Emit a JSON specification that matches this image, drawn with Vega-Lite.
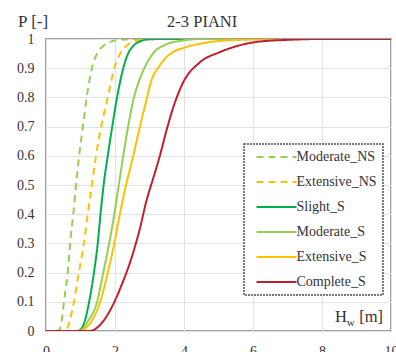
{
  "$schema": "https://vega.github.io/schema/vega-lite/v6.json",
  "width": 345,
  "height": 292,
  "autosize": {"type": "none"},
  "padding": {"left": 46, "top": 39, "right": 5, "bottom": 21},
  "background": "white",
  "config": {
    "font": "Liberation Serif, Times New Roman, DejaVu Serif, serif",
    "view": {"stroke": "#808080", "strokeWidth": 1.5},
    "axis": {"labelFont": "Liberation Serif, Times New Roman, DejaVu Serif, serif", "labelFontSize": 14, "labelColor": "#333333", "ticks": false, "domain": false, "grid": true, "gridColor": "#E2E2E2", "gridWidth": 1, "labelOverlap": false},
    "text": {"font": "Liberation Serif, Times New Roman, DejaVu Serif, serif", "color": "#333333", "baseline": "alphabetic"}
  },
  "layer": [
    {
      "data": {"values": [
        {"s": "Moderate_NS", "x": 0.3, "p": 0}, {"s": "Moderate_NS", "x": 0.38, "p": 0.003}, {"s": "Moderate_NS", "x": 0.45, "p": 0.03}, {"s": "Moderate_NS", "x": 0.52, "p": 0.1}, {"s": "Moderate_NS", "x": 0.63, "p": 0.2}, {"s": "Moderate_NS", "x": 0.7, "p": 0.3}, {"s": "Moderate_NS", "x": 0.79, "p": 0.4}, {"s": "Moderate_NS", "x": 0.87, "p": 0.5}, {"s": "Moderate_NS", "x": 0.96, "p": 0.6}, {"s": "Moderate_NS", "x": 1.07, "p": 0.7}, {"s": "Moderate_NS", "x": 1.18, "p": 0.8}, {"s": "Moderate_NS", "x": 1.33, "p": 0.9}, {"s": "Moderate_NS", "x": 1.48, "p": 0.95}, {"s": "Moderate_NS", "x": 1.65, "p": 0.975}, {"s": "Moderate_NS", "x": 1.9, "p": 0.992}, {"s": "Moderate_NS", "x": 2.2, "p": 0.998}, {"s": "Moderate_NS", "x": 2.6, "p": 1}, {"s": "Moderate_NS", "x": 10, "p": 1},
        {"s": "Extensive_NS", "x": 0.3, "p": 0}, {"s": "Extensive_NS", "x": 0.55, "p": 0}, {"s": "Extensive_NS", "x": 0.62, "p": 0.01}, {"s": "Extensive_NS", "x": 0.7, "p": 0.04}, {"s": "Extensive_NS", "x": 0.81, "p": 0.1}, {"s": "Extensive_NS", "x": 0.95, "p": 0.2}, {"s": "Extensive_NS", "x": 1.1, "p": 0.3}, {"s": "Extensive_NS", "x": 1.21, "p": 0.4}, {"s": "Extensive_NS", "x": 1.33, "p": 0.5}, {"s": "Extensive_NS", "x": 1.45, "p": 0.6}, {"s": "Extensive_NS", "x": 1.6, "p": 0.7}, {"s": "Extensive_NS", "x": 1.79, "p": 0.8}, {"s": "Extensive_NS", "x": 1.98, "p": 0.9}, {"s": "Extensive_NS", "x": 2.15, "p": 0.95}, {"s": "Extensive_NS", "x": 2.32, "p": 0.975}, {"s": "Extensive_NS", "x": 2.6, "p": 0.993}, {"s": "Extensive_NS", "x": 3.0, "p": 0.999}, {"s": "Extensive_NS", "x": 3.5, "p": 1}, {"s": "Extensive_NS", "x": 10, "p": 1},
        {"s": "Slight_S", "x": 0, "p": 0}, {"s": "Slight_S", "x": 0.9, "p": 0}, {"s": "Slight_S", "x": 1.0, "p": 0.005}, {"s": "Slight_S", "x": 1.1, "p": 0.025}, {"s": "Slight_S", "x": 1.25, "p": 0.1}, {"s": "Slight_S", "x": 1.39, "p": 0.2}, {"s": "Slight_S", "x": 1.5, "p": 0.3}, {"s": "Slight_S", "x": 1.58, "p": 0.4}, {"s": "Slight_S", "x": 1.67, "p": 0.5}, {"s": "Slight_S", "x": 1.79, "p": 0.6}, {"s": "Slight_S", "x": 1.92, "p": 0.7}, {"s": "Slight_S", "x": 2.06, "p": 0.8}, {"s": "Slight_S", "x": 2.24, "p": 0.9}, {"s": "Slight_S", "x": 2.38, "p": 0.95}, {"s": "Slight_S", "x": 2.52, "p": 0.975}, {"s": "Slight_S", "x": 2.75, "p": 0.993}, {"s": "Slight_S", "x": 3.0, "p": 0.999}, {"s": "Slight_S", "x": 3.5, "p": 1}, {"s": "Slight_S", "x": 10, "p": 1},
        {"s": "Moderate_S", "x": 0, "p": 0}, {"s": "Moderate_S", "x": 0.95, "p": 0}, {"s": "Moderate_S", "x": 1.05, "p": 0.005}, {"s": "Moderate_S", "x": 1.2, "p": 0.03}, {"s": "Moderate_S", "x": 1.48, "p": 0.1}, {"s": "Moderate_S", "x": 1.66, "p": 0.2}, {"s": "Moderate_S", "x": 1.83, "p": 0.3}, {"s": "Moderate_S", "x": 1.98, "p": 0.4}, {"s": "Moderate_S", "x": 2.11, "p": 0.5}, {"s": "Moderate_S", "x": 2.24, "p": 0.6}, {"s": "Moderate_S", "x": 2.38, "p": 0.7}, {"s": "Moderate_S", "x": 2.55, "p": 0.8}, {"s": "Moderate_S", "x": 2.65, "p": 0.84}, {"s": "Moderate_S", "x": 2.85, "p": 0.9}, {"s": "Moderate_S", "x": 3.1, "p": 0.95}, {"s": "Moderate_S", "x": 3.45, "p": 0.98}, {"s": "Moderate_S", "x": 3.97, "p": 0.995}, {"s": "Moderate_S", "x": 4.5, "p": 1}, {"s": "Moderate_S", "x": 10, "p": 1},
        {"s": "Extensive_S", "x": 0, "p": 0}, {"s": "Extensive_S", "x": 1.0, "p": 0}, {"s": "Extensive_S", "x": 1.15, "p": 0.01}, {"s": "Extensive_S", "x": 1.3, "p": 0.03}, {"s": "Extensive_S", "x": 1.57, "p": 0.1}, {"s": "Extensive_S", "x": 1.79, "p": 0.2}, {"s": "Extensive_S", "x": 1.98, "p": 0.3}, {"s": "Extensive_S", "x": 2.14, "p": 0.4}, {"s": "Extensive_S", "x": 2.32, "p": 0.5}, {"s": "Extensive_S", "x": 2.53, "p": 0.6}, {"s": "Extensive_S", "x": 2.72, "p": 0.7}, {"s": "Extensive_S", "x": 2.93, "p": 0.8}, {"s": "Extensive_S", "x": 3.01, "p": 0.84}, {"s": "Extensive_S", "x": 3.3, "p": 0.91}, {"s": "Extensive_S", "x": 3.68, "p": 0.955}, {"s": "Extensive_S", "x": 4.0, "p": 0.97}, {"s": "Extensive_S", "x": 4.67, "p": 0.988}, {"s": "Extensive_S", "x": 5.4, "p": 0.996}, {"s": "Extensive_S", "x": 7, "p": 1}, {"s": "Extensive_S", "x": 10, "p": 1},
        {"s": "Complete_S", "x": 0, "p": 0}, {"s": "Complete_S", "x": 1.25, "p": 0}, {"s": "Complete_S", "x": 1.4, "p": 0.005}, {"s": "Complete_S", "x": 1.6, "p": 0.025}, {"s": "Complete_S", "x": 1.9, "p": 0.08}, {"s": "Complete_S", "x": 2.2, "p": 0.16}, {"s": "Complete_S", "x": 2.45, "p": 0.24}, {"s": "Complete_S", "x": 2.72, "p": 0.35}, {"s": "Complete_S", "x": 2.92, "p": 0.45}, {"s": "Complete_S", "x": 3.1, "p": 0.52}, {"s": "Complete_S", "x": 3.3, "p": 0.6}, {"s": "Complete_S", "x": 3.5, "p": 0.69}, {"s": "Complete_S", "x": 3.7, "p": 0.77}, {"s": "Complete_S", "x": 3.97, "p": 0.85}, {"s": "Complete_S", "x": 4.46, "p": 0.92}, {"s": "Complete_S", "x": 5.04, "p": 0.955}, {"s": "Complete_S", "x": 5.6, "p": 0.978}, {"s": "Complete_S", "x": 6.1, "p": 0.99}, {"s": "Complete_S", "x": 7, "p": 0.997}, {"s": "Complete_S", "x": 8, "p": 1}, {"s": "Complete_S", "x": 10, "p": 1}
      ]},
      "mark": {"type": "line", "interpolate": "monotone", "strokeWidth": 2, "clip": true},
      "encoding": {
        "x": {"field": "x", "type": "quantitative", "scale": {"domain": [0, 10], "nice": false}, "axis": {"values": [0, 2, 4, 6, 8, 10], "labelPadding": 13, "title": null, "labelFlush": false}},
        "y": {"field": "p", "type": "quantitative", "scale": {"domain": [0, 1], "nice": false}, "axis": {"values": [0, 0.1, 0.2, 0.3, 0.4, 0.5, 0.6, 0.7, 0.8, 0.9, 1], "format": "~g", "labelPadding": 12, "labelFlush": false, "labelOverlap": false, "title": null}},
        "color": {"field": "s", "type": "nominal", "scale": {"domain": ["Moderate_NS", "Extensive_NS", "Slight_S", "Moderate_S", "Extensive_S", "Complete_S"], "range": ["#92D050", "#FFC000", "#00B050", "#92D050", "#FFC000", "#C0202E"]},
          "legend": {"title": null, "orient": "none", "legendX": 198, "legendY": 105, "padding": 6, "rowPadding": 11, "fillColor": "white", "strokeColor": "#505050", "symbolType": "M-10,0H10", "symbolSize": 16, "symbolStrokeWidth": 2, "symbolOffset": 19.5, "labelOffset": 13, "labelFont": "Liberation Serif, Times New Roman, DejaVu Serif, serif", "labelFontSize": 14, "labelColor": "#333333", "encode": {"legend": {"update": {"strokeDash": {"value": [2, 1]}, "strokeWidth": {"value": 1.5}}}}}},
        "strokeDash": {"field": "s", "type": "nominal", "scale": {"domain": ["Moderate_NS", "Extensive_NS", "Slight_S", "Moderate_S", "Extensive_S", "Complete_S"], "range": [[7, 5], [7, 5], [1, 0], [1, 0], [1, 0], [1, 0]]}, "legend": {"title": null}}
      }
    },
    {
      "data": {"values": [{}]},
      "mark": {"type": "text", "text": "2-3 PIANI", "fontSize": 16.5, "align": "left"},
      "encoding": {"x": {"datum": 3.51, "axis": {"values": [0, 2, 4, 6, 8, 10], "labelPadding": 13, "title": null, "labelFlush": false}}, "y": {"datum": 1.041, "axis": {"values": [0, 0.1, 0.2, 0.3, 0.4, 0.5, 0.6, 0.7, 0.8, 0.9, 1], "format": "~g", "labelPadding": 12, "labelFlush": false, "labelOverlap": false, "title": null}}}
    },
    {
      "data": {"values": [{}]},
      "mark": {"type": "text", "text": "P [-]", "fontSize": 17, "align": "left"},
      "encoding": {"x": {"datum": -0.81, "axis": {"values": [0, 2, 4, 6, 8, 10], "labelPadding": 13, "title": null, "labelFlush": false}}, "y": {"datum": 1.041, "axis": {"values": [0, 0.1, 0.2, 0.3, 0.4, 0.5, 0.6, 0.7, 0.8, 0.9, 1], "format": "~g", "labelPadding": 12, "labelFlush": false, "labelOverlap": false, "title": null}}}
    },
    {
      "data": {"values": [{}]},
      "mark": {"type": "text", "text": "H", "fontSize": 16.5, "align": "left"},
      "encoding": {"x": {"datum": 8.38, "axis": {"values": [0, 2, 4, 6, 8, 10], "labelPadding": 13, "title": null, "labelFlush": false}}, "y": {"datum": 0.031, "axis": {"values": [0, 0.1, 0.2, 0.3, 0.4, 0.5, 0.6, 0.7, 0.8, 0.9, 1], "format": "~g", "labelPadding": 12, "labelFlush": false, "labelOverlap": false, "title": null}}}
    },
    {
      "data": {"values": [{}]},
      "mark": {"type": "text", "text": "w", "fontSize": 11, "align": "left"},
      "encoding": {"x": {"datum": 8.72, "axis": {"values": [0, 2, 4, 6, 8, 10], "labelPadding": 13, "title": null, "labelFlush": false}}, "y": {"datum": 0.017, "axis": {"values": [0, 0.1, 0.2, 0.3, 0.4, 0.5, 0.6, 0.7, 0.8, 0.9, 1], "format": "~g", "labelPadding": 12, "labelFlush": false, "labelOverlap": false, "title": null}}}
    },
    {
      "data": {"values": [{}]},
      "mark": {"type": "text", "text": "[m]", "fontSize": 16.5, "align": "left"},
      "encoding": {"x": {"datum": 9.08, "axis": {"values": [0, 2, 4, 6, 8, 10], "labelPadding": 13, "title": null, "labelFlush": false}}, "y": {"datum": 0.031, "axis": {"values": [0, 0.1, 0.2, 0.3, 0.4, 0.5, 0.6, 0.7, 0.8, 0.9, 1], "format": "~g", "labelPadding": 12, "labelFlush": false, "labelOverlap": false, "title": null}}}
    }
  ]
}
